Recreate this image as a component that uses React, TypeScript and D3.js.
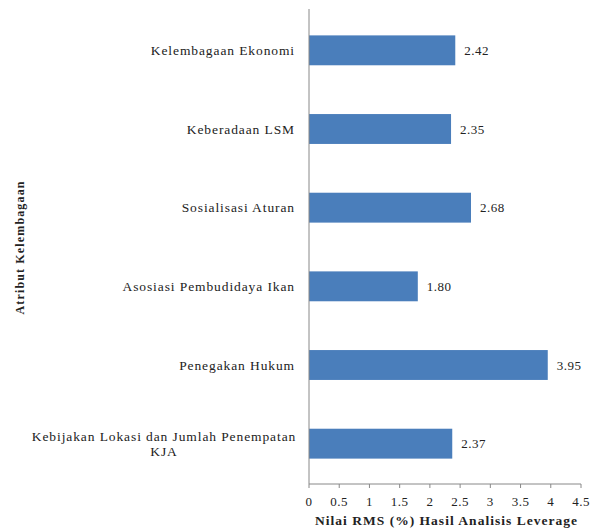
import React from "react";
import * as d3 from "d3";

const categories = [
  "Kelembagaan Ekonomi",
  "Keberadaan LSM",
  "Sosialisasi Aturan",
  "Asosiasi Pembudidaya Ikan",
  "Penegakan Hukum",
  "Kebijakan Lokasi dan Jumlah Penempatan KJA",
];
const values = [2.42, 2.35, 2.68, 1.8, 3.95, 2.37];
const xTicks = [0, 0.5, 1, 1.5, 2, 2.5, 3, 3.5, 4, 4.5];
const xTitle = "Nilai RMS (%) Hasil Analisis Leverage";
const yTitle = "Atribut Kelembagaan";

const W = 592;
const H = 529;
const left = 309;
const right = 581;
const top = 11;
const bottom = 483;
const FONT = "Liberation Serif, Times New Roman, serif";

export default function App() {
  const x = d3.scaleLinear().domain([0, 4.5]).range([left, right]);
  const y = d3.scaleBand().domain(categories).range([top, bottom]).paddingInner(0.62).paddingOuter(0.31);
  const wrap = (s: string) => {
    if (s.length > 30) {
      const words = s.split(" ");
      return [words.slice(0, -1).join(" "), words[words.length - 1]];
    }
    return [s];
  };
  const ts = { fontFamily: FONT, letterSpacing: "0.9px" } as React.CSSProperties;
  const ns = { fontFamily: FONT, letterSpacing: "0.5px" } as React.CSSProperties;
  return (
    <svg width={W} height={H} style={{ position: "absolute", left: 0, top: 0, background: "#fff" }}>
      {categories.map((c, i) => {
        const yc = (y(c) as number) + y.bandwidth() / 2;
        const lines = wrap(c);
        return (
          <g key={c}>
            <rect x={x(0)} y={y(c)} width={x(values[i]) - x(0)} height={y.bandwidth()} fill="#4a7ebb" />
            <text x={x(values[i]) + 9} y={yc} dy="0.35em" fontSize={13} fill="#222" style={ns}>
              {values[i].toFixed(2)}
            </text>
            {lines.length === 1 ? (
              <text x={295} y={yc} dy="0.35em" fontSize={13.5} textAnchor="end" fill="#222" style={ts}>
                {c}
              </text>
            ) : (
              <text fontSize={13.5} textAnchor="middle" fill="#222" style={ts}>
                <tspan x={164} y={yc - 7} dy="0.35em">{lines[0]}</tspan>
                <tspan x={164} y={yc + 8} dy="0.35em">{lines[1]}</tspan>
              </text>
            )}
          </g>
        );
      })}
      <line x1={left} x2={left} y1={top - 2} y2={bottom + 1} stroke="#888" />
      <line x1={left} x2={right} y1={bottom + 1} y2={bottom + 1} stroke="#888" />
      {xTicks.map((t) => (
        <g key={t}>
          <line x1={x(t)} x2={x(t)} y1={bottom + 1} y2={bottom + 5} stroke="#888" />
          <text x={x(t)} y={bottom + 18} dy="0.35em" fontSize={13} textAnchor="middle" fill="#222" style={ns}>
            {t}
          </text>
        </g>
      ))}
      <text x={446} y={520} dy="0.35em" fontSize={13.5} fontWeight="bold" textAnchor="middle" fill="#222"
        style={{ fontFamily: FONT }} textLength={262} lengthAdjust="spacing">
        {xTitle}
      </text>
      <text transform={`translate(20, 248) rotate(-90)`} dy="0.35em" fontSize={12} fontWeight="bold" textAnchor="middle" fill="#222"
        style={{ fontFamily: FONT }} textLength={133} lengthAdjust="spacing">
        {yTitle}
      </text>
    </svg>
  );
}
